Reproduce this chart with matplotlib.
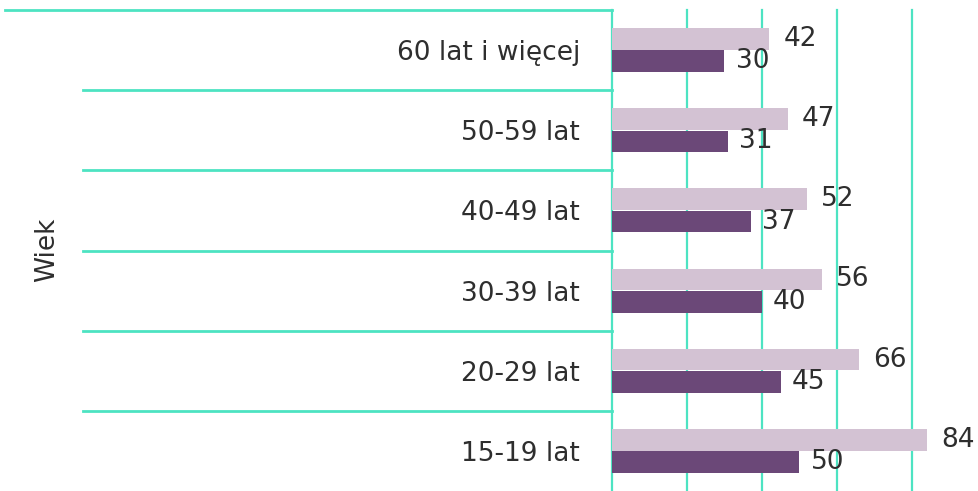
import matplotlib
matplotlib.use("Agg")
import matplotlib.pyplot as plt
from matplotlib.transforms import blended_transform_factory
import numpy as np

categories = ["15-19 lat", "20-29 lat", "30-39 lat", "40-49 lat", "50-59 lat", "60 lat i więcej"]
series_light = [84, 66, 56, 52, 47, 42]
series_dark = [50, 45, 40, 37, 31, 30]
axis_title = "Wiek"
x_ticks = [0, 20, 40, 60, 80]

LIGHT = "#d3c2d3"
DARK = "#6b4878"
GRID = "#4de3c2"
TEXT = "#2e2e2e"
FONT = ["DejaVu Sans"]

W, H = 979, 491
fig = plt.figure(figsize=(W / 100, H / 100), dpi=100)
ax = fig.add_axes([612 / W, 0, 1 - 612 / W, 1 - 10 / H])

y = np.arange(len(categories))
h = 0.27
off = 0.14
ax.barh(y + off, series_light, height=h, color=LIGHT, zorder=3)
ax.barh(y - off, series_dark, height=h, color=DARK, zorder=3)

for yi, v in zip(y, series_light):
    ax.annotate(str(v), (v, yi + off), xytext=(10, 0), textcoords="offset points",
                va="center", ha="left", fontsize=19, color=TEXT, family=FONT, zorder=4)
for yi, v in zip(y, series_dark):
    ax.annotate(str(v), (v, yi - off), xytext=(8, 0), textcoords="offset points",
                va="center", ha="left", fontsize=19, color=TEXT, family=FONT, zorder=4)

ax.set_xlim(0, 97.9)
ax.set_ylim(-0.5, len(categories) - 0.5)
for xv in x_ticks:
    ax.axvline(xv, color=GRID, lw=1.6, zorder=1, clip_on=False)
ax.set_xticks([])
ax.set_yticks(y)
ax.set_yticklabels(categories, fontsize=19, color=TEXT, family=FONT)
ax.tick_params(axis="y", length=0, pad=23)
for s in ax.spines.values():
    s.set_visible(False)

tr = blended_transform_factory(fig.transFigure, ax.transData)
for i in range(len(categories)):
    yb = i + 0.5
    x0 = 5 / W if i == len(categories) - 1 else 83 / W
    ax.plot([x0, 612 / W], [yb, yb], transform=tr, color=GRID, lw=2,
            clip_on=False, zorder=1)

fig.text(47 / W, 1 - 250 / H, axis_title, rotation=90, ha="center", va="center",
         fontsize=19, color=TEXT, family=FONT)

fig.savefig("out.png", dpi=100)
